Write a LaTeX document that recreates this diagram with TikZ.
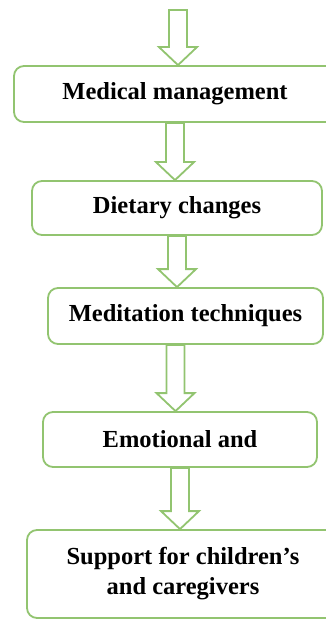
\documentclass[tikz,border=0pt]{standalone}
\usepackage{fontspec}
\setmainfont{Liberation Serif}
\usetikzlibrary{calc,positioning}
\definecolor{leaf}{RGB}{146,196,112}
\tikzset{
  stage/.style={draw=leaf, line width=0.9pt, rounded corners=5pt, fill=white,
    align=center, inner sep=0pt, font=\fontsize{12.25}{15}\selectfont\bfseries},
  hollow/.style={draw=leaf, line width=0.9pt, fill=white,
    to path={let \p1=(\tikztostart), \p2=(\tikztotarget) in
      (\x1-4.5pt,\y1) -- (\x1-4.5pt,\y2+9pt) -- (\x1-9.5pt,\y2+9pt) -- (\x1,\y2)
      -- (\x1+9.5pt,\y2+9pt) -- (\x1+4.5pt,\y2+9pt) -- (\x1+4.5pt,\y1) -- cycle}}
}
\begin{document}
\begin{tikzpicture}[x=0.5pt,y=-0.5pt]
\clip (0,0) rectangle (326,620);

\coordinate (start) at (178,10);
\node[stage, minimum width=161pt, minimum height=28pt] (medical) at (175,94) {Medical management};
\node[stage, minimum width=145pt, minimum height=27pt] (diet) at (177,208) {Dietary changes};
\node[stage, minimum width=137.5pt, minimum height=28pt] (meditation) at (185.5,316) {Meditation techniques};
\node[stage, minimum width=137pt, minimum height=27.5pt] (emotion) at (180,439.5) {Emotional and};
\node[stage, minimum width=156pt, minimum height=44pt] (support) at (183,574) {Support for children’s\\and caregivers};

\draw[hollow] (start) to (medical.north);
\draw[hollow] (medical.south) to (diet.north);
\draw[hollow] (diet.south) to (meditation.north);
\draw[hollow] ([xshift=-5pt]meditation.south) to (emotion.north);
\draw[hollow] (emotion.south) to (support.north);
\end{tikzpicture}
\end{document}
